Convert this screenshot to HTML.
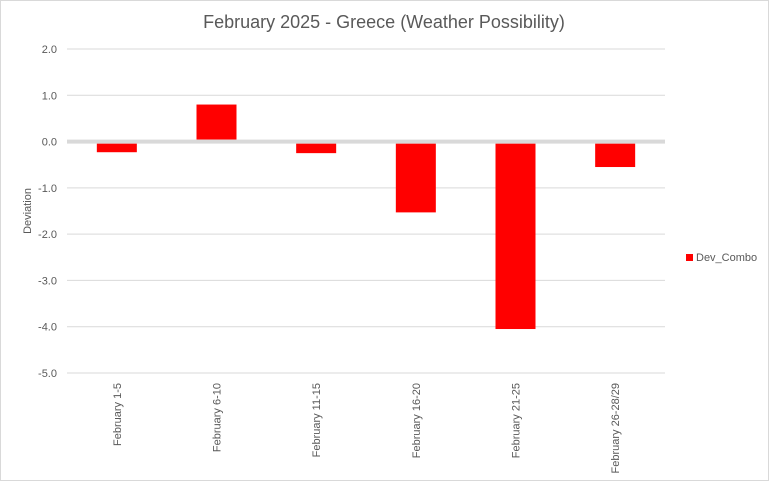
<!DOCTYPE html>
<html><head><meta charset="utf-8"><style>
body{margin:0;background:#fff;font-family:"Liberation Sans",Calibri,sans-serif;}
.wrap{width:767px;height:479px;border:1px solid #d9d9d9;position:relative;}
</style></head><body>
<div class="wrap">
<svg id="c" width="767" height="479">
<text x="383" y="27" text-anchor="middle" font-size="18" fill="#595959">February 2025 - Greece (Weather Possibility)</text>
<text transform="translate(30,210) rotate(-90)" text-anchor="middle" font-size="11" fill="#595959">Deviation</text>
<rect x="685" y="253" width="7" height="7" fill="#ff0000"/>
<text x="695" y="260" font-size="11" fill="#595959">Dev_Combo</text>
</svg>
</div>
<script>
const categories=["February 1-5","February 6-10","February 11-15","February 16-20","February 21-25","February 26-28/29"];
const values=[-0.23,0.8,-0.25,-1.53,-4.05,-0.55];
const ticks=[2,1,0,-1,-2,-3,-4,-5];
const svg=document.getElementById('c');
const NS='http://www.w3.org/2000/svg';
const x0=66,x1=664,yTop=48,yBot=372,vMax=2,vMin=-5;
const y=v=>yTop+(vMax-v)/(vMax-vMin)*(yBot-yTop);
const bw=(x1-x0)/categories.length;
function mk(t,a){const e=document.createElementNS(NS,t);for(const k in a)e.setAttribute(k,a[k]);svg.appendChild(e);return e;}
ticks.forEach(t=>{
  if(t!==0){const l=mk('line',{x1:x0,x2:x1,y1:y(t),y2:y(t),stroke:'#d9d9d9','stroke-width':1});
  
  }
  const tx=mk('text',{x:56,y:y(t)+4,'text-anchor':'end','font-size':11,fill:'#595959'});
  tx.textContent=t.toFixed(1);
  
  
});
values.forEach((v,i)=>{
  const cx=x0+bw*(i+0.5);
  const top=v>=0?y(v):y(0)+2, bot=v>=0?y(0)-2:y(v);
  const r=mk('rect',{x:cx-20,y:top,width:40,height:Math.max(0,bot-top),fill:'#ff0000'});
  
  
  const tx=mk('text',{transform:`translate(${cx+4},382) rotate(-90)`,'text-anchor':'end','font-size':11,fill:'#595959'});
  tx.textContent=categories[i];
  
  
});
const z=mk('line',{x1:x0,x2:x1,y1:y(0),y2:y(0),stroke:'#d9d9d9','stroke-width':4});


</script>
</body></html>
